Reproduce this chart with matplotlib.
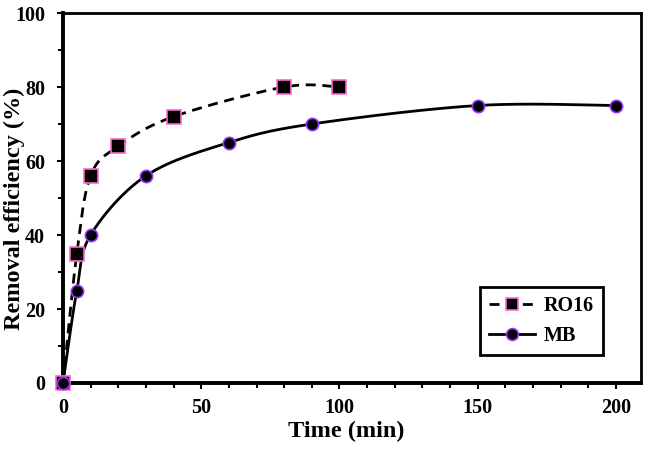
import matplotlib.pyplot as plt
from matplotlib.ticker import MultipleLocator
import numpy as np

# data
ro16_time = [0, 5, 10, 20, 40, 80, 100]
ro16_eff = [0, 35, 56, 64, 72, 80, 80]
mb_time = [0, 5, 10, 30, 60, 90, 150, 200]
mb_eff = [0, 25, 40, 56, 65, 70, 75, 75]


def smooth(x, y, n=40):
    # Excel style smoothed line: cubic bezier through the points
    x = np.asarray(x, float)
    y = np.asarray(y, float)
    px = np.concatenate([[x[0]], x, [x[-1]]])
    py = np.concatenate([[y[0]], y, [y[-1]]])
    xs, ys = [], []
    t = np.linspace(0, 1, n)
    for i in range(len(x) - 1):
        p0 = np.array([x[i], y[i]])
        p3 = np.array([x[i + 1], y[i + 1]])
        p1 = p0 + (np.array([px[i + 2], py[i + 2]]) - np.array([px[i], py[i]])) / 6
        p2 = p3 - (np.array([px[i + 3], py[i + 3]]) - np.array([px[i + 1], py[i + 1]])) / 6
        b = ((1 - t) ** 3)[:, None] * p0 + (3 * (1 - t) ** 2 * t)[:, None] * p1 \
            + (3 * (1 - t) * t ** 2)[:, None] * p2 + (t ** 3)[:, None] * p3
        xs.extend(b[:, 0])
        ys.extend(b[:, 1])
    return xs, ys


plt.rcParams['font.family'] = 'Liberation Serif'
plt.rcParams['font.weight'] = 'bold'

fig = plt.figure(figsize=(6.46, 4.49), dpi=100)
ax = fig.add_axes([0.0975, 0.147, 0.8945, 0.824])

dash = (0, (3.6, 2.4))
sx, sy = smooth(ro16_time, ro16_eff)
ax.plot(sx, sy, color='black', lw=2, ls=dash)
sx, sy = smooth(mb_time, mb_eff)
ax.plot(sx, sy, color='black', lw=2)

ax.plot(ro16_time, ro16_eff, ls='none', marker='s', ms=10.5, mfc='black',
        mec='#ff66cc', mew=1.2, clip_on=False, zorder=5)
ax.plot(mb_time, mb_eff, ls='none', marker='o', ms=8.8, mfc='black',
        mec='#9933ff', mew=1.2, clip_on=False, zorder=6)

# legend handles
h1, = ax.plot([], [], color='black', lw=2, ls=dash, marker='s',
              ms=9, mfc='black', mec='#ff66cc', mew=1.2)
h2, = ax.plot([], [], color='black', lw=2, marker='o', ms=8.5,
              mfc='black', mec='#9933ff', mew=1.2)
leg = ax.legend([h1, h2], ['RO16', 'MB'], loc='lower right',
                bbox_to_anchor=(0.934, 0.076), borderaxespad=0,
                fancybox=False, framealpha=1, edgecolor='black',
                fontsize=14.5, handlelength=2.3, borderpad=0.45,
                labelspacing=0.5, handletextpad=0.4)
leg.get_frame().set_linewidth(2)

ax.set_xlim(0, 209)
ax.set_ylim(0, 100)
ax.xaxis.set_major_locator(MultipleLocator(50))
ax.xaxis.set_minor_locator(MultipleLocator(10))
ax.yaxis.set_major_locator(MultipleLocator(20))
ax.yaxis.set_minor_locator(MultipleLocator(10))
ax.tick_params(which='major', direction='out', length=4, width=1.5,
               labelsize=14.5)
ax.tick_params(which='minor', direction='out', length=3.5, width=1.5)
ax.tick_params(axis='x', which='major', pad=7)
ax.tick_params(axis='y', which='major', pad=9)

ax.spines['left'].set_linewidth(2.8)
ax.spines['bottom'].set_linewidth(2.8)
ax.spines['top'].set_linewidth(2)
ax.spines['right'].set_linewidth(2)

ax.set_xlabel('Time (min)', fontsize=17.5, fontweight='bold', va='top')
ax.xaxis.set_label_coords(0.491, -0.103)
ax.set_ylabel('Removal efficiency (%)', fontsize=17.5, fontweight='bold',
              va='center')
ax.yaxis.set_label_coords(-0.084, 0.47)

fig.savefig('out.png', dpi=100)
